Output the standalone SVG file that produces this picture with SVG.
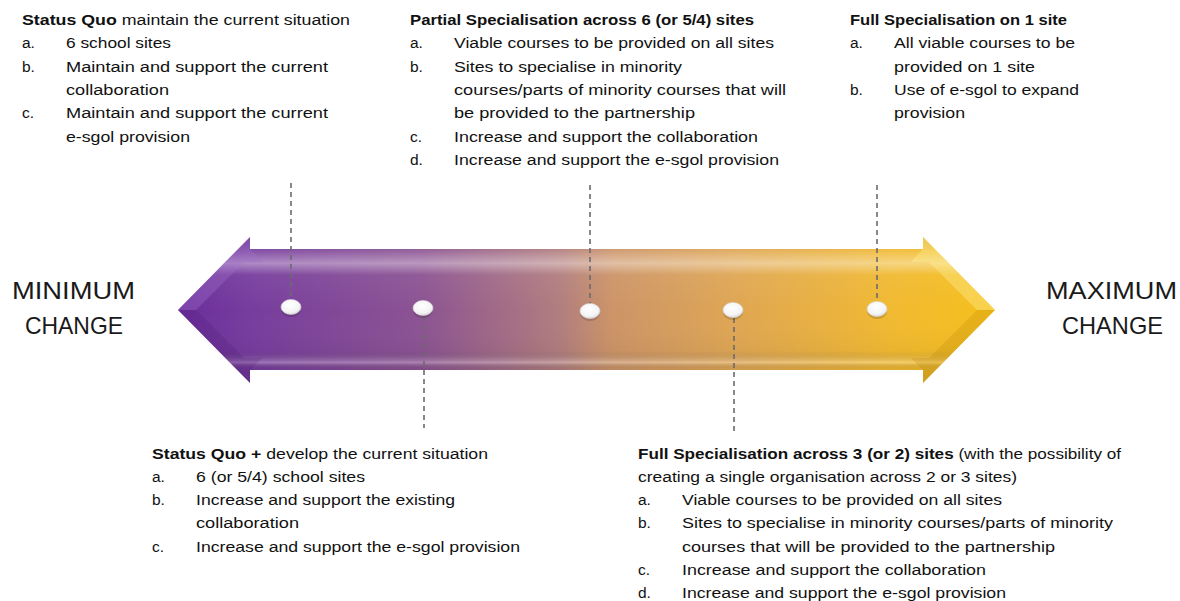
<svg xmlns="http://www.w3.org/2000/svg" width="1180" height="601" viewBox="0 0 1180 601">
<style>
.t{font-family:"Liberation Sans",Arial,sans-serif;font-size:15.5px;fill:#111}
.b{font-weight:bold}
.big{font-family:"Liberation Sans",Arial,sans-serif;font-size:24px;fill:#1a1a1a}
.dash{stroke:#6b6b6b;stroke-width:1.6;stroke-dasharray:5,4;fill:none}
.dot{fill:url(#dotg);stroke:#d8d8d8;stroke-width:0.6}
</style>
<defs>
<linearGradient id="hg" x1="178" y1="0" x2="995" y2="0" gradientUnits="userSpaceOnUse">
<stop offset="0" stop-color="#6a2c9c"/>
<stop offset="0.09" stop-color="#773d9e"/>
<stop offset="0.3" stop-color="#8c5492"/>
<stop offset="0.47" stop-color="#b27e7e"/>
<stop offset="0.53" stop-color="#cc9468"/>
<stop offset="0.68" stop-color="#dfa654"/>
<stop offset="0.87" stop-color="#f0b932"/>
<stop offset="1" stop-color="#f5c01c"/>
</linearGradient>
<linearGradient id="vg" x1="0" y1="237" x2="0" y2="383" gradientUnits="userSpaceOnUse">
<stop offset="0" stop-color="#000" stop-opacity="0.05"/>
<stop offset="0.1" stop-color="#fff" stop-opacity="0.12"/>
<stop offset="0.18" stop-color="#fff" stop-opacity="0.4"/>
<stop offset="0.26" stop-color="#fff" stop-opacity="0.05"/>
<stop offset="0.5" stop-color="#fff" stop-opacity="0"/>
<stop offset="0.78" stop-color="#000" stop-opacity="0.03"/>
<stop offset="0.86" stop-color="#fff" stop-opacity="0.28"/>
<stop offset="0.9" stop-color="#000" stop-opacity="0.08"/>
<stop offset="1" stop-color="#000" stop-opacity="0.1"/>
</linearGradient>
<radialGradient id="dotg" cx="0.45" cy="0.35" r="0.7">
<stop offset="0" stop-color="#ffffff"/>
<stop offset="0.7" stop-color="#f4f4f4"/>
<stop offset="1" stop-color="#cfcfcf"/>
</radialGradient>
</defs>

<g id="arrow">
<path d="M178,310 L250,237 L250,249 L923,249 L923,237 L995,310 L923,383 L923,370 L250,370 L250,383 Z" fill="url(#hg)"/>
<path d="M178,310 L250,237 L250,249 L923,249 L923,237 L995,310 L923,383 L923,370 L250,370 L250,383 Z" fill="url(#vg)"/>
<path d="M178,310 L250,237 L250,249 L262,262 L244,262 L196,310 Z" fill="#a070c8" opacity="0.35"/>
<path d="M178,310 L196,310 L244,358 L262,358 L250,370 L250,383 Z" fill="#4a1a70" opacity="0.2"/>
<path d="M995,310 L923,237 L923,249 L911,262 L929,262 L977,310 Z" fill="#fff3a0" opacity="0.35"/>
<path d="M995,310 L977,310 L929,358 L911,358 L923,370 L923,383 Z" fill="#b07a00" opacity="0.2"/>
</g>

<g id="connectors">
<line class="dash" x1="291" y1="183" x2="291" y2="300"/>
<line class="dash" x1="424" y1="316" x2="424" y2="428"/>
<line class="dash" x1="590" y1="185" x2="590" y2="304"/>
<line class="dash" x1="734" y1="318" x2="734" y2="432"/>
<line class="dash" x1="877" y1="185" x2="877" y2="302"/>
</g>

<g id="dots">
<ellipse cx="291" cy="308" rx="10" ry="7.5" fill="#000" opacity="0.15" transform="translate(0,1.5)"/>
<ellipse class="dot" cx="291" cy="307" rx="10" ry="7.5"/>
<ellipse cx="423" cy="309" rx="10" ry="7.5" fill="#000" opacity="0.15" transform="translate(0,1.5)"/>
<ellipse class="dot" cx="423" cy="308" rx="10" ry="7.5"/>
<ellipse cx="590" cy="312" rx="10" ry="7.5" fill="#000" opacity="0.15" transform="translate(0,1.5)"/>
<ellipse class="dot" cx="590" cy="311" rx="10" ry="7.5"/>
<ellipse cx="733" cy="311" rx="10" ry="7.5" fill="#000" opacity="0.15" transform="translate(0,1.5)"/>
<ellipse class="dot" cx="733" cy="310" rx="10" ry="7.5"/>
<ellipse cx="877" cy="310" rx="10" ry="7.5" fill="#000" opacity="0.15" transform="translate(0,1.5)"/>
<ellipse class="dot" cx="877" cy="309" rx="10" ry="7.5"/>
</g>

<g id="min-label">
<text class="big" x="12" y="299" textLength="123" lengthAdjust="spacingAndGlyphs">MINIMUM</text>
<text class="big" x="25" y="334" textLength="98" lengthAdjust="spacingAndGlyphs">CHANGE</text>
</g>
<g id="max-label">
<text class="big" x="1046" y="299" textLength="131" lengthAdjust="spacingAndGlyphs">MAXIMUM</text>
<text class="big" x="1062" y="334" textLength="101" lengthAdjust="spacingAndGlyphs">CHANGE</text>
</g>

<g id="status-quo">
<text class="t" x="22" y="25" textLength="328" lengthAdjust="spacingAndGlyphs"><tspan class="b">Status Quo</tspan> maintain the current situation</text>
<text class="t" x="22" y="48">a.</text><text class="t" x="66" y="48" textLength="105" lengthAdjust="spacingAndGlyphs">6 school sites</text>
<text class="t" x="22" y="72">b.</text><text class="t" x="66" y="72" textLength="262" lengthAdjust="spacingAndGlyphs">Maintain and support the current</text>
<text class="t" x="66" y="95" textLength="103" lengthAdjust="spacingAndGlyphs">collaboration</text>
<text class="t" x="22" y="118">c.</text><text class="t" x="66" y="118" textLength="262" lengthAdjust="spacingAndGlyphs">Maintain and support the current</text>
<text class="t" x="66" y="142" textLength="124" lengthAdjust="spacingAndGlyphs">e-sgol provision</text>
</g>

<g id="partial-specialisation">
<text class="t b" x="410" y="25" textLength="344" lengthAdjust="spacingAndGlyphs">Partial Specialisation across 6 (or 5/4) sites</text>
<text class="t" x="410" y="48">a.</text><text class="t" x="454" y="48" textLength="320" lengthAdjust="spacingAndGlyphs">Viable courses to be provided on all sites</text>
<text class="t" x="410" y="72">b.</text><text class="t" x="454" y="72" textLength="228" lengthAdjust="spacingAndGlyphs">Sites to specialise in minority</text>
<text class="t" x="454" y="95" textLength="332" lengthAdjust="spacingAndGlyphs">courses/parts of minority courses that will</text>
<text class="t" x="454" y="118" textLength="241" lengthAdjust="spacingAndGlyphs">be provided to the partnership</text>
<text class="t" x="410" y="142">c.</text><text class="t" x="454" y="142" textLength="304" lengthAdjust="spacingAndGlyphs">Increase and support the collaboration</text>
<text class="t" x="410" y="165">d.</text><text class="t" x="454" y="165" textLength="325" lengthAdjust="spacingAndGlyphs">Increase and support the e-sgol provision</text>
</g>

<g id="full-specialisation-1">
<text class="t b" x="850" y="25" textLength="217" lengthAdjust="spacingAndGlyphs">Full Specialisation on 1 site</text>
<text class="t" x="850" y="48">a.</text><text class="t" x="894" y="48" textLength="181" lengthAdjust="spacingAndGlyphs">All viable courses to be</text>
<text class="t" x="894" y="72" textLength="141" lengthAdjust="spacingAndGlyphs">provided on 1 site</text>
<text class="t" x="850" y="95">b.</text><text class="t" x="894" y="95" textLength="185" lengthAdjust="spacingAndGlyphs">Use of e-sgol to expand</text>
<text class="t" x="894" y="118" textLength="71" lengthAdjust="spacingAndGlyphs">provision</text>
</g>

<g id="status-quo-plus">
<text class="t" x="152" y="459" textLength="336" lengthAdjust="spacingAndGlyphs"><tspan class="b">Status Quo +</tspan> develop the current situation</text>
<text class="t" x="152" y="482">a.</text><text class="t" x="196" y="482" textLength="169" lengthAdjust="spacingAndGlyphs">6 (or 5/4) school sites</text>
<text class="t" x="152" y="505">b.</text><text class="t" x="196" y="505" textLength="259" lengthAdjust="spacingAndGlyphs">Increase and support the existing</text>
<text class="t" x="196" y="528" textLength="103" lengthAdjust="spacingAndGlyphs">collaboration</text>
<text class="t" x="152" y="552">c.</text><text class="t" x="196" y="552" textLength="324" lengthAdjust="spacingAndGlyphs">Increase and support the e-sgol provision</text>
</g>

<g id="full-specialisation-3">
<text class="t" x="638" y="459" textLength="483" lengthAdjust="spacingAndGlyphs"><tspan class="b">Full Specialisation across 3 (or 2) sites</tspan> (with the possibility of</text>
<text class="t" x="638" y="482" textLength="379" lengthAdjust="spacingAndGlyphs">creating a single organisation across 2 or 3 sites)</text>
<text class="t" x="638" y="505">a.</text><text class="t" x="682" y="505" textLength="320" lengthAdjust="spacingAndGlyphs">Viable courses to be provided on all sites</text>
<text class="t" x="638" y="528">b.</text><text class="t" x="682" y="528" textLength="431" lengthAdjust="spacingAndGlyphs">Sites to specialise in minority courses/parts of minority</text>
<text class="t" x="682" y="552" textLength="373" lengthAdjust="spacingAndGlyphs">courses that will be provided to the partnership</text>
<text class="t" x="638" y="575">c.</text><text class="t" x="682" y="575" textLength="304" lengthAdjust="spacingAndGlyphs">Increase and support the collaboration</text>
<text class="t" x="638" y="598">d.</text><text class="t" x="682" y="598" textLength="324" lengthAdjust="spacingAndGlyphs">Increase and support the e-sgol provision</text>
</g>
</svg>
